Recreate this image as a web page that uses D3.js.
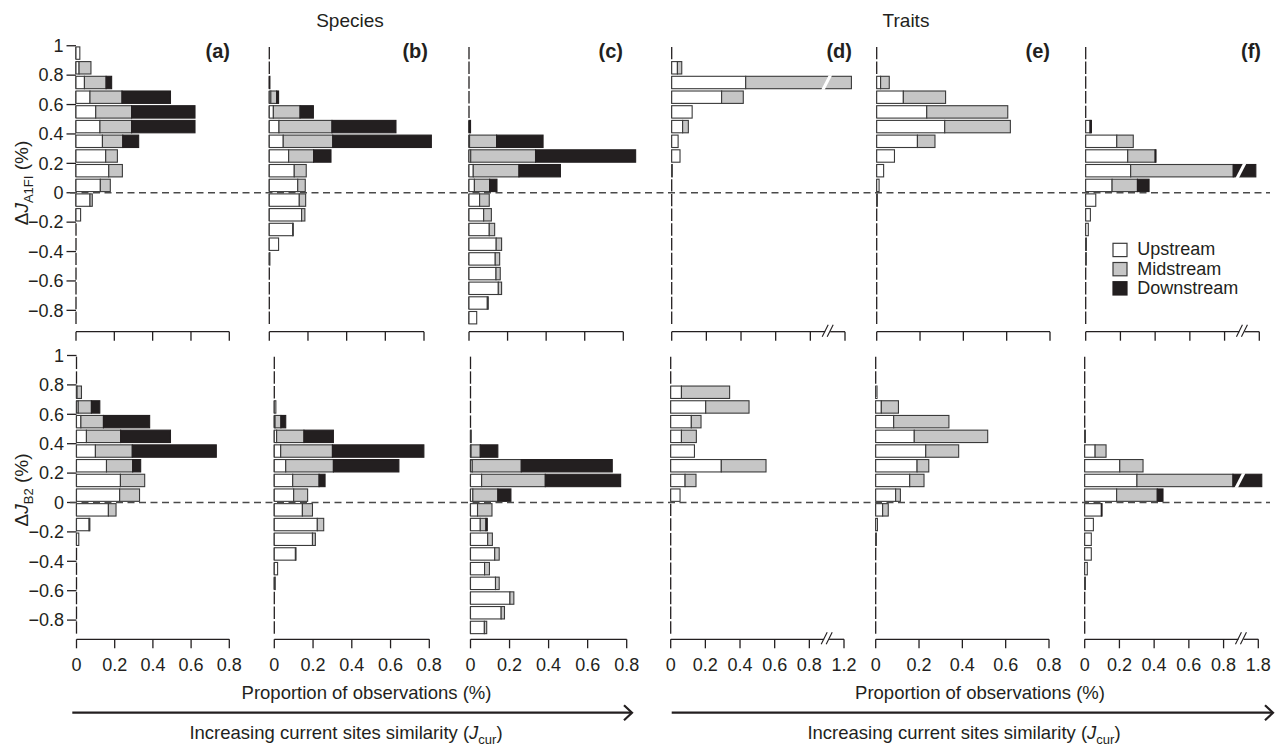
<!DOCTYPE html>
<html><head><meta charset="utf-8">
<script src="https://cdn.jsdelivr.net/npm/d3@7"></script>
<style>
html,body{margin:0;padding:0;background:#fff;}
svg text{font-family:"Liberation Sans",Arial,Helvetica,sans-serif;fill:#231f20;}
</style></head><body>
<svg id="chart" width="1281" height="746"></svg>
<script>
// ================= DATA =================
const bins = [0.95,0.85,0.75,0.65,0.55,0.45,0.35,0.25,0.15,0.05,-0.05,-0.15,-0.25,-0.35,-0.45,-0.55,-0.65,-0.75,-0.85];
const streams = ["Upstream","Midstream","Downstream"];
const panelLetters = ["(a)","(b)","(c)","(d)","(e)","(f)"];
const groupTitles = ["Species","Traits"];
const scenarios = ["A1FI","B2"];
const xTickValues = [[0,0.2,0.4,0.6,0.8],[0,0.2,0.4,0.6,0.8],[0,0.2,0.4,0.6,0.8],
                     [0,0.2,0.4,0.6,0.8,1.2],[0,0.2,0.4,0.6,0.8],[0,0.2,0.4,0.6,0.8,1.8]];
const xTickLabels = [["0","0.2","0.4","0.6","0.8"],["0","0.2","0.4","0.6","0.8"],["0","0.2","0.4","0.6","0.8"],
                     ["0","0.2","0.4","0.6","0.8","1.2"],["0","0.2","0.4","0.6","0.8"],["0","0.2","0.4","0.6","0.8","1.8"]];
const xBreakStart = [null,null,null,1.1,null,1.7];
const yTickValues = [1,0.8,0.6,0.4,0.2,0,-0.2,-0.4,-0.6,-0.8];
const yTickLabels = ["1","0.8","0.6","0.4","0.2","0","\u22120.2","\u22120.4","\u22120.6","\u22120.8"];
const xTitle = "Proportion of observations (%)";
const arrowTitle = "Increasing current sites similarity (";

// Scenario A1FI (top row), one array of 19 bins per panel (a)-(f)
const upA1FI = [
  [.020,.016,.044,.073,.103,.125,.138,.155,.171,.127,.073,.024,0,0,0,0,0,0,0],
  [0,0,0,.008,.021,.050,.072,.100,.129,.147,.155,.167,.121,.048,.003,0,0,0,0],
  [0,0,0,0,0,0,.003,.009,.022,.028,.055,.076,.105,.141,.136,.140,.152,.095,.040],
  [0,.033,.427,.288,.118,.063,.037,.048,.003,0,0,0,0,0,0,0,0,0,0],
  [0,0,.018,.123,.231,.314,.188,.082,.032,.011,.003,0,0,0,0,0,0,0,0],
  [0,0,0,0,0,.025,.179,.242,.259,.152,.058,.027,.015,.004,.003,0,0,0,0]
];
const midA1FI = [
  [0,.062,.113,.167,.187,.165,.106,.061,.071,.052,.012,0,0,0,0,0,0,0,0],
  [0,0,0,.030,.138,.274,.256,.129,.062,.039,.033,.017,.003,0,0,0,0,0,0],
  [0,0,0,0,0,0,.140,.336,.237,.079,.050,.040,.028,.028,.023,.022,.017,.005,0],
  [0,.025,.810,.125,0,.033,0,0,0,0,0,0,0,0,0,0,0,0,0],
  [0,0,.040,.195,.374,.303,.081,0,0,0,0,0,0,0,0,0,0,0,0],
  [0,0,0,0,0,0,.095,.158,.591,.146,0,0,0,0,0,0,0,0,0]
];
const downA1FI = [
  [0,0,.029,.253,.331,.331,.083,0,0,0,0,0,0,0,0,0,0,0,0],
  [0,0,.003,.010,.069,.331,.510,.090,0,0,0,0,0,0,0,0,0,0,0],
  [0,0,0,0,0,.008,.241,.519,.215,.038,0,0,0,0,0,0,0,0,0],
  [0,0,0,0,0,0,0,0,0,0,0,0,0,0,0,0,0,0,0],
  [0,0,0,0,0,0,0,0,0,0,0,0,0,0,0,0,0,0,0],
  [0,0,0,0,0,.008,0,.005,.930,.067,0,0,0,0,0,0,0,0,0]
];
// Scenario B2 (bottom row)
const upB2 = [
  [0,0,.003,.009,.023,.052,.099,.157,.230,.226,.167,.066,.012,0,0,0,0,0,0],
  [0,0,0,.008,.004,.012,.033,.059,.095,.100,.145,.222,.197,.109,.017,.005,0,0,0],
  [0,0,0,0,0,.004,.003,.009,.057,.012,.036,.050,.088,.124,.072,.128,.202,.157,.071],
  [0,0,.062,.202,.119,.062,.137,.292,.083,.054,0,0,0,0,0,0,0,0,0],
  [0,0,.006,.026,.083,.178,.231,.191,.157,.092,.032,.008,.003,0,0,0,0,0,0],
  [0,0,0,0,0,.004,.060,.202,.301,.184,.096,.050,.038,.038,.015,.004,0,0,0]
];
const midB2 = [
  [0,0,.023,.069,.118,.179,.193,.137,.127,.104,.040,.004,0,0,0,0,0,0,0],
  [0,0,0,0,.030,.141,.267,.246,.136,.072,.052,.033,.015,.003,0,0,0,0,0],
  [0,0,0,0,0,0,.047,.251,.326,.128,.074,.029,.024,.023,.025,.019,.020,.017,.012],
  [0,0,.278,.250,.056,.086,0,.258,.063,0,0,0,0,0,0,0,0,0,0],
  [0,0,0,.079,.255,.339,.152,.054,.066,.022,.026,0,0,0,0,0,0,0,0],
  [0,0,0,0,0,0,.063,.134,.553,.234,0,0,0,0,0,0,0,0,0]
];
const downB2 = [
  [0,0,0,.044,.242,.261,.440,.042,0,0,0,0,0,0,0,0,0,0,0],
  [0,0,0,0,.025,.152,.472,.338,.031,0,0,0,0,0,0,0,0,0,0],
  [0,0,0,0,0,0,.090,.466,.386,.067,0,.007,0,0,0,0,0,0,0],
  [0,0,0,0,0,0,0,0,0,0,0,0,0,0,0,0,0,0,0],
  [0,0,0,0,0,0,0,0,0,0,0,0,0,0,0,0,0,0,0],
  [0,0,0,0,0,0,0,0,.966,.033,.004,0,0,0,0,0,0,0,0]
];

// ================= LAYOUT / STYLE =================
const fills = ["#ffffff","#c6c6c6","#231f20"];
const strokeCol = "#3a3a3a";
const ink = "#231f20";
const rows = [
  {up:upA1FI, mid:midA1FI, down:downA1FI, y0:192.75, axisY:331.7, titleY:183, showX:false,
   x0:[76,269.3,469,671.7,876.7,1085.7], xEnd:[229.3,424,623.3,845,1050,1259.3]},
  {up:upB2, mid:midB2, down:downB2, y0:502.5, axisY:639.3, titleY:490, showX:true,
   x0:[76.5,274.3,470.5,670.7,875.7,1084.7], xEnd:[229.3,429.3,626.7,844,1049,1258.3]}
];
const pxPerUnit = 147;
const barH = 12.4;
const letterRight = [230,428,623,852,1050,1261];

const svg = d3.select("#chart");

function makeX(row, p){
  const x0 = row.x0[p], x1 = row.xEnd[p];
  const ticks = xTickValues[p];
  if (xBreakStart[p] == null){
    const last = ticks[ticks.length-1];
    return d3.scaleLinear().domain([0,last]).range([x0,x1]);
  }
  const u = (x1-x0)/1.0, b = xBreakStart[p];
  return d3.scaleLinear().domain([0,0.9,b,b+0.2]).range([x0,x0+0.9*u,x0+0.9*u,x0+1.1*u]);
}
function tickPos(p, v, x){ return x(v); }

rows.forEach((row, r) => {
  const y = d3.scaleLinear().domain([0,1]).range([row.y0, row.y0 - pxPerUnit]);
  const g = svg.append("g");
  for (let p = 0; p < 6; p++){
    const x = makeX(row, p);
    const pg = g.append("g");
    // axis segments (left edge for every bin)
    pg.selectAll("line.seg").data(bins).join("line")
      .attr("x1", x(0)).attr("x2", x(0))
      .attr("y1", d => y(d) - barH/2).attr("y2", d => y(d) + barH/2)
      .attr("stroke", ink).attr("stroke-width", 1.3);
    // stacked bars
    const series = [row.up[p], row.mid[p], row.down[p]];
    const segs = [];
    bins.forEach((b, i) => {
      let s = 0;
      series.forEach((arr, k) => {
        const v = arr[i];
        if (v > 0) segs.push({b, k, s0:s, s1:s+v});
        s += v;
      });
    });
    pg.selectAll("rect.bar").data(segs).join("rect")
      .attr("x", d => x(d.s0))
      .attr("width", d => Math.max(0.6, x(d.s1) - x(d.s0)))
      .attr("y", d => y(d.b) - barH/2)
      .attr("height", barH)
      .attr("fill", d => fills[d.k])
      .attr("stroke", d => d.k === 2 ? ink : strokeCol)
      .attr("stroke-width", 1.1);
    // break slashes on bars that cross the axis break
    if (xBreakStart[p] != null){
      const xc = x(0.9) - 1;
      bins.forEach((b, i) => {
        const tot = series[0][i] + series[1][i] + series[2][i];
        if (tot > xBreakStart[p]){
          const yt = y(b) - barH/2 - 1, yb = y(b) + barH/2 + 1;
          pg.append("polygon")
            .attr("points", [[xc-5.5,yb],[xc-2,yb],[xc+5.5,yt],[xc+2,yt]].map(q=>q.join(",")).join(" "))
            .attr("fill", "#fff");
        }
      });
    }
    // x axis
    const ticks = xTickValues[p];
    const ax = pg.append("g");
    const xa = x(0), xb = x(ticks[ticks.length-1]);
    if (xBreakStart[p] == null){
      ax.append("line").attr("x1", xa).attr("x2", xb).attr("y1", row.axisY).attr("y2", row.axisY)
        .attr("stroke", ink).attr("stroke-width", 1.3);
    } else {
      const xc = x(0.9);
      ax.append("line").attr("x1", xa).attr("x2", xc-2.5).attr("y1", row.axisY).attr("y2", row.axisY)
        .attr("stroke", ink).attr("stroke-width", 1.3);
      ax.append("line").attr("x1", xc+2.5).attr("x2", xb).attr("y1", row.axisY).attr("y2", row.axisY)
        .attr("stroke", ink).attr("stroke-width", 1.3);
      [-2.5, 2.5].forEach(o => {
        ax.append("line").attr("x1", xc+o-3).attr("y1", row.axisY+5)
          .attr("x2", xc+o+3).attr("y2", row.axisY-7)
          .attr("stroke", ink).attr("stroke-width", 1.1);
      });
    }
    ax.selectAll("line.tick").data(ticks).join("line")
      .attr("x1", d => x(d)).attr("x2", d => x(d))
      .attr("y1", row.axisY).attr("y2", row.axisY + 9)
      .attr("stroke", ink).attr("stroke-width", 1.3);
    if (row.showX){
      ax.selectAll("text.tl").data(ticks).join("text")
        .attr("x", d => x(d)).attr("y", row.axisY + 31.7)
        .attr("text-anchor", "middle").attr("font-size", 18)
        .text((d, i) => xTickLabels[p][i]);
    }
    // y axis ticks + labels on first panel
    if (p === 0){
      const x0 = x(0);
      pg.selectAll("line.yt").data(yTickValues).join("line")
        .attr("x1", x0 - 9.5).attr("x2", x0)
        .attr("y1", d => y(d)).attr("y2", d => y(d))
        .attr("stroke", ink).attr("stroke-width", 1.3);
      pg.selectAll("text.yl").data(yTickValues).join("text")
        .attr("x", x0 - 12.5).attr("y", d => y(d)).attr("dy", "0.35em")
        .attr("text-anchor", "end").attr("font-size", 18)
        .text((d, i) => yTickLabels[i]);
    }
    // panel letter
    if (r === 0){
      pg.append("text").attr("x", letterRight[p]).attr("y", 58)
        .attr("text-anchor", "end").attr("font-size", 20).attr("font-weight", "bold")
        .text(panelLetters[p]);
    }
  }
  // dashed zero line
  g.append("line").attr("x1", 70).attr("x2", 1270)
    .attr("y1", y(0)).attr("y2", y(0))
    .attr("stroke", "#4a4a4a").attr("stroke-width", 1.6).attr("stroke-dasharray", "7,4.5");
  // y title
  const t = g.append("text").attr("transform", `translate(28,${row.titleY}) rotate(-90)`)
    .attr("text-anchor", "middle").attr("font-size", 19);
  t.append("tspan").text("\u0394");
  t.append("tspan").attr("font-style", "italic").text("J");
  t.append("tspan").attr("font-size", 13).attr("dy", 5).text(scenarios[r]);
  t.append("tspan").attr("dy", -5).text(" (%)");
});

// group titles
[[350, groupTitles[0]], [906, groupTitles[1]]].forEach(([xx, s]) => {
  svg.append("text").attr("x", xx).attr("y", 27).attr("text-anchor", "middle")
    .attr("font-size", 19).text(s);
});

// legend
const leg = svg.append("g");
streams.forEach((s, i) => {
  const yy = 243.3 + i*19.2;
  leg.append("rect").attr("x", 1113).attr("y", yy).attr("width", 14).attr("height", 13.3)
    .attr("fill", fills[i]).attr("stroke", i === 2 ? ink : strokeCol).attr("stroke-width", 1.2);
  leg.append("text").attr("x", 1137.3).attr("y", yy + 12).attr("font-size", 18).text(s);
});

// bottom titles and arrows
[[366.5, 346, 72.3, 632], [980, 964, 671.7, 1273]].forEach(([cx1, cx2, ax0, ax1]) => {
  svg.append("text").attr("x", cx1).attr("y", 698.5).attr("text-anchor", "middle")
    .attr("font-size", 18.5).text(xTitle);
  svg.append("line").attr("x1", ax0).attr("x2", ax1 - 1).attr("y1", 712.7).attr("y2", 712.7)
    .attr("stroke", ink).attr("stroke-width", 2.2);
  svg.append("polyline")
    .attr("points", `${ax1-8},${712.7-7.5} ${ax1},${712.7} ${ax1-8},${712.7+7.5}`)
    .attr("fill", "none").attr("stroke", ink).attr("stroke-width", 2.2);
  const t = svg.append("text").attr("x", cx2).attr("y", 739).attr("text-anchor", "middle")
    .attr("font-size", 18.5);
  t.append("tspan").text(arrowTitle);
  t.append("tspan").attr("font-style", "italic").text("J");
  t.append("tspan").attr("font-size", 13).attr("dy", 5).text("cur");
  t.append("tspan").attr("dy", -5).text(")");
});
</script>
</body></html>
